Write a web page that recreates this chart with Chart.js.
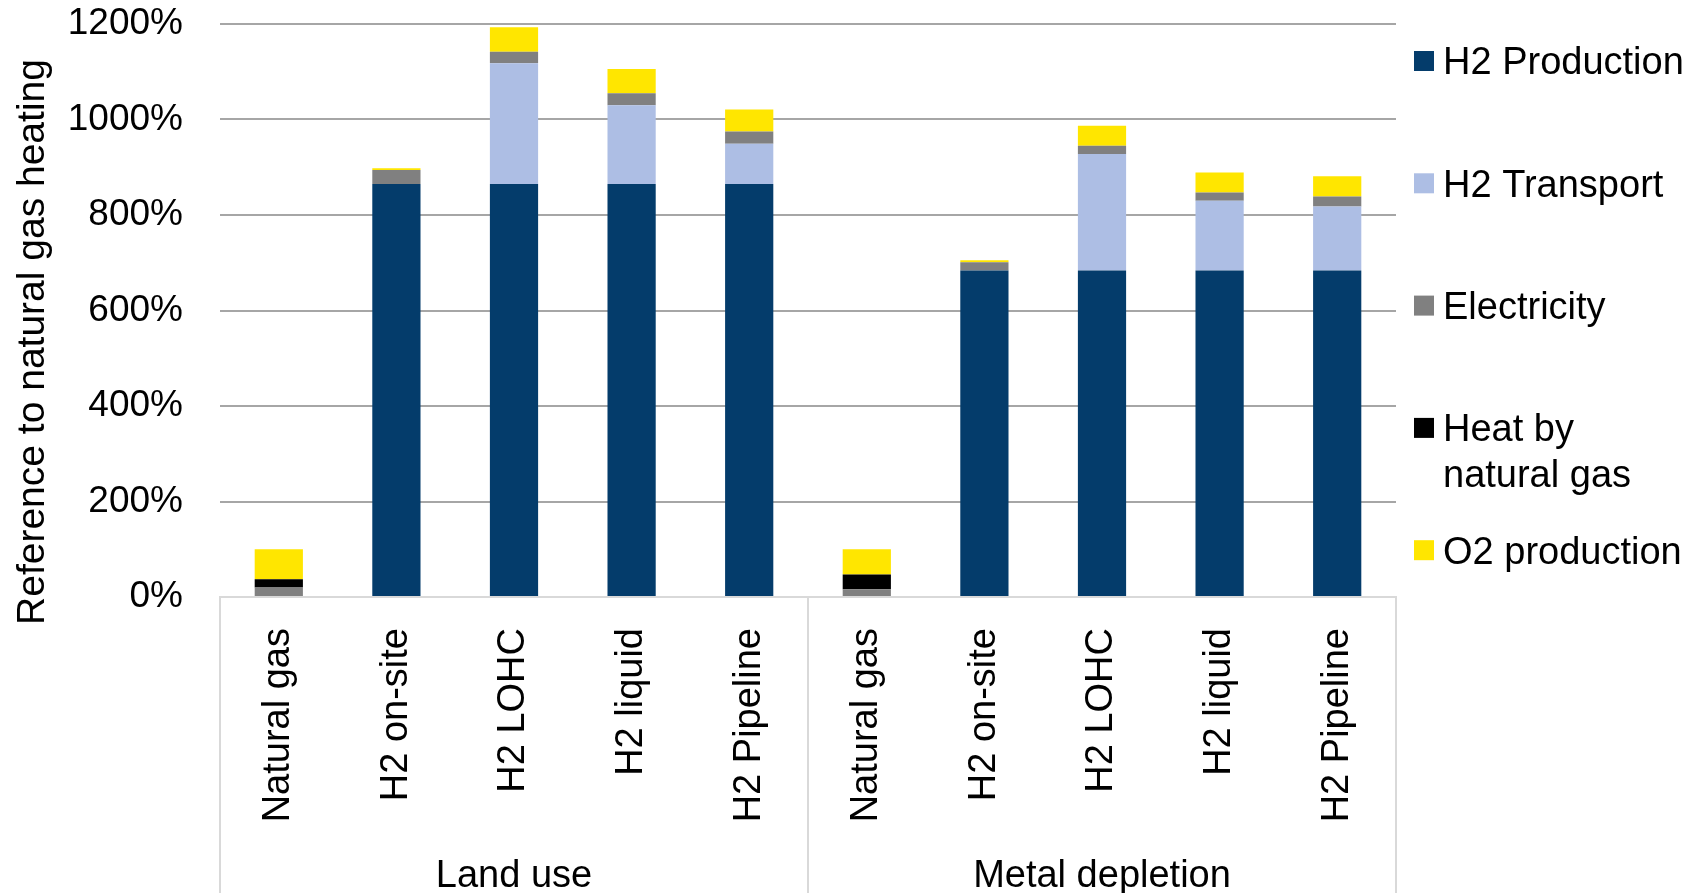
<!DOCTYPE html>
<html>
<head>
<meta charset="utf-8">
<script src="https://cdn.jsdelivr.net/npm/chart.js@4.4.1/dist/chart.umd.min.js"></script>
<style>
html,body{margin:0;padding:0;background:#fff;}
#wrap{width:1697px;height:893px;position:relative;}
</style>
</head>
<body>
<div id="wrap"><canvas id="c" width="1697" height="893"></canvas></div>
<script>
// ---- data ----
const categories = ['Natural gas','H2 on-site','H2 LOHC','H2 liquid','H2 Pipeline',
                    'Natural gas','H2 on-site','H2 LOHC','H2 liquid','H2 Pipeline'];
const groups = ['Land use','Metal depletion'];
const groupSize = [5,5];
const h2Production     = [0,865,865,865,865,  0,684,684,684,684];
const h2Transport      = [0,  0,253,165, 84,  0,  0,244,146,134];
const electricity      = [20, 29, 24, 25, 26, 16, 17, 17, 17, 21];
const heatByNaturalGas = [17,  0,  0,  0,  0, 31,  0,  0,  0,  0];
const o2Production     = [63,  4, 51, 51, 46, 53,  4, 42, 42, 42];
const yTicks = [0,200,400,600,800,1000,1200];
const seriesNames = ['H2 Production','H2 Transport','Electricity','Heat by natural gas','O2 production'];
const legendLines = [['H2 Production'],['H2 Transport'],['Electricity'],['Heat by','natural gas'],['O2 production']];
const yTitle = 'Reference to natural gas heating';

const colors = ['#043C6B','#ADBEE4','#808080','#000000','#FFE600'];
const seriesValues = [h2Production,h2Transport,electricity,heatByNaturalGas,o2Production];
const FONT = '"Liberation Sans", Arial, Helvetica, sans-serif';

const overlay = {
  id: 'overlay',
  afterDraw(chart) {
    const ctx = chart.ctx, a = chart.chartArea, x = chart.scales.x;
    const H = chart.height;
    ctx.save();
    // group separators
    ctx.strokeStyle = '#d9d9d9';
    ctx.lineWidth = 2;
    const bounds = [a.left];
    let idx = 0;
    groupSize.forEach(n => {
      idx += n;
      bounds.push(idx < categories.length
        ? (x.getPixelForValue(idx - 1) + x.getPixelForValue(idx)) / 2
        : a.right);
    });
    bounds.forEach(bx => {
      ctx.beginPath();
      ctx.moveTo(bx, a.bottom);
      ctx.lineTo(bx, H);
      ctx.stroke();
    });
    // group labels
    ctx.fillStyle = '#000';
    ctx.font = '38px ' + FONT;
    ctx.textAlign = 'center';
    ctx.textBaseline = 'middle';
    groups.forEach((g, i) => ctx.fillText(g, (bounds[i] + bounds[i + 1]) / 2, a.bottom + 280));
    // y title
    ctx.save();
    ctx.translate(33, 342);
    ctx.rotate(-Math.PI / 2);
    ctx.font = '39px ' + FONT;
    ctx.fillText(yTitle, 0, 0);
    ctx.restore();
    // legend
    ctx.font = '38px ' + FONT;
    ctx.textAlign = 'left';
    const lx = a.right + 18, tx = a.right + 47, step = 122.3, lh = 46;
    legendLines.forEach((lines, i) => {
      const cy = a.top + 37 + i * step;
      ctx.fillStyle = colors[i];
      ctx.fillRect(lx, cy - 10, 20, 20);
      ctx.fillStyle = '#000';
      lines.forEach((t, j) => ctx.fillText(t, tx, cy + j * lh + 3));
    });
    ctx.restore();
  }
};

new Chart(document.getElementById('c'), {
  type: 'bar',
  data: {
    labels: categories,
    datasets: seriesNames.map((name, i) => ({
      label: name,
      data: seriesValues[i],
      backgroundColor: colors[i],
      borderWidth: 0,
      categoryPercentage: 1,
      barPercentage: 0.41
    }))
  },
  options: {
    responsive: false,
    devicePixelRatio: 1,
    animation: false,
    layout: { padding: { top: 24, right: 301, bottom: 0, left: 0 } },
    plugins: { legend: { display: false }, tooltip: { enabled: false } },
    scales: {
      x: {
        stacked: true,
        afterFit: s => { s.height = 296; },
        grid: { display: false, drawTicks: false },
        border: { display: true, color: '#d9d9d9', width: 2 },
        ticks: {
          autoSkip: false, minRotation: 90, maxRotation: 90, padding: 31,
          color: '#000', font: { family: FONT, size: 38 }
        }
      },
      y: {
        stacked: true,
        min: 0, max: 1200,
        afterFit: s => { s.width = 220; s.paddingTop = 0; s.paddingBottom = 0; },
        afterBuildTicks: s => { s.ticks = yTicks.map(v => ({ value: v })); },
        grid: {
          drawTicks: false,
          lineWidth: 2,
          color: c => (c.tick && c.tick.value === 0) ? 'rgba(0,0,0,0)' : '#a6a6a6'
        },
        border: { display: false },
        ticks: {
          padding: 37, color: '#000', font: { family: FONT, size: 37 },
          callback: v => v + '%'
        }
      }
    }
  },
  plugins: [overlay]
});
</script>
</body>
</html>
